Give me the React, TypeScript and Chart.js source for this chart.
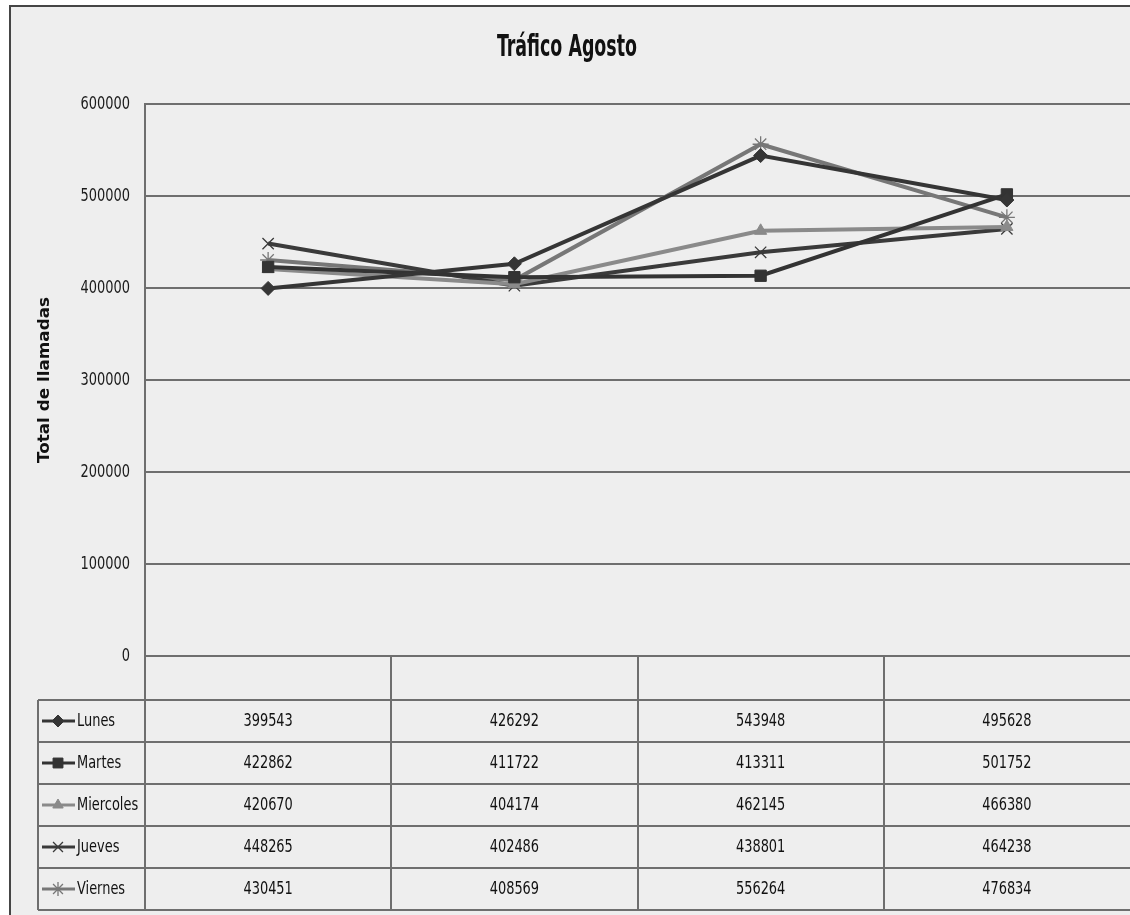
import React, { useEffect, useRef } from 'react';
import { Chart, registerables } from 'chart.js';
import { drawPoint } from 'chart.js/helpers';

Chart.register(...registerables);

const chartTitle = 'Tráfico Agosto';
const yAxisTitle = 'Total de llamadas';
const categories = ['', '', '', ''];
const seriesNames = ['Lunes', 'Martes', 'Miercoles', 'Jueves', 'Viernes'];
const lunes = [399543, 426292, 543948, 495628];
const martes = [422862, 411722, 413311, 501752];
const miercoles = [420670, 404174, 462145, 466380];
const jueves = [448265, 402486, 438801, 464238];
const viernes = [430451, 408569, 556264, 476834];
const yMin = 0;
const yMax = 600000;
const yStep = 100000;

const seriesValues = [lunes, martes, miercoles, jueves, viernes];
const seriesColors = ['#353535', '#333333', '#8a8a8a', '#3a3a3a', '#777777'];
const seriesMarkers = ['rectRot', 'rect', 'triangle', 'crossRot', 'star'];
const seriesRadius = [7, 8, 7, 8, 8];

const W = 1130;
const H = 915;
const NARROW = '"DejaVu Sans Condensed", "DejaVu Sans", sans-serif';
const GRID = '#6e6e6e';
const SQUEEZE = 0.8;

function drawText(ctx: CanvasRenderingContext2D, text: string, x: number, y: number, sx: number, align: CanvasTextAlign) {
  ctx.save();
  ctx.translate(x, y);
  ctx.scale(sx, 1);
  ctx.textAlign = align;
  ctx.fillText(text, 0, 0);
  ctx.restore();
}

function fitText(ctx: CanvasRenderingContext2D, text: string, x: number, y: number, targetW: number, align: CanvasTextAlign) {
  const w = ctx.measureText(text).width;
  drawText(ctx, text, x, y, targetW / w, align);
}

const decorPlugin = {
  id: 'decor',
  beforeDraw(chart: any) {
    const ctx: CanvasRenderingContext2D = chart.ctx;
    ctx.save();
    ctx.fillStyle = '#ffffff';
    ctx.fillRect(0, 0, W, H);
    ctx.fillStyle = '#eeeeee';
    ctx.fillRect(10, 6, W - 10, H - 6);
    ctx.strokeStyle = '#454545';
    ctx.lineWidth = 2;
    ctx.beginPath();
    ctx.moveTo(10, H);
    ctx.lineTo(10, 6);
    ctx.lineTo(W, 6);
    ctx.stroke();
    ctx.restore();
  },
  afterDraw(chart: any) {
    const ctx: CanvasRenderingContext2D = chart.ctx;
    const area = chart.chartArea;
    const xs = chart.scales.x;
    const ys = chart.scales.y;
    const n = categories.length;
    const colW = area.width / n;
    ctx.save();
    ctx.textBaseline = 'middle';
    // title
    ctx.fillStyle = '#111111';
    ctx.font = 'bold 31px ' + NARROW;
    fitText(ctx, chartTitle, 567, 48, 140, 'center');
    // y axis title
    ctx.save();
    ctx.translate(45, (area.top + area.bottom) / 2);
    ctx.rotate(-Math.PI / 2);
    ctx.font = 'bold 15px "DejaVu Sans", sans-serif';
    ctx.fillStyle = '#111111';
    fitText(ctx, yAxisTitle, 0, 0, 166, 'center');
    ctx.restore();

    // y tick labels
    ctx.font = '18px ' + NARROW;
    ctx.fillStyle = '#1a1a1a';
    ys.ticks.forEach((t: any) => {
      drawText(ctx, String(t.value), 130, ys.getPixelForValue(t.value), SQUEEZE, 'right');
    });

    // data table
    const headerBottom = area.bottom + 44;
    const rowH = 42;
    const tableLeft = 38;
    const tableBottom = headerBottom + rowH * seriesNames.length;
    ctx.strokeStyle = GRID;
    ctx.lineWidth = 2;
    ctx.beginPath();
    for (let i = 0; i < n; i++) {
      const x = Math.round(xs.getPixelForValue(i) - colW / 2);
      ctx.moveTo(x, area.bottom);
      ctx.lineTo(x, tableBottom);
    }
    ctx.moveTo(tableLeft, headerBottom);
    ctx.lineTo(tableLeft, tableBottom);
    for (let r = 0; r <= seriesNames.length; r++) {
      const y = headerBottom + r * rowH;
      ctx.moveTo(tableLeft, y);
      ctx.lineTo(W, y);
    }
    ctx.stroke();

    seriesNames.forEach((name, r) => {
      const cy = headerBottom + r * rowH + rowH / 2;
      const ds = chart.data.datasets[r];
      ctx.strokeStyle = seriesColors[r];
      ctx.fillStyle = seriesColors[r];
      ctx.lineWidth = 3;
      ctx.beginPath();
      ctx.moveTo(42, cy);
      ctx.lineTo(75, cy);
      ctx.stroke();
      ctx.lineWidth = ds.pointBorderWidth;
      drawPoint(ctx, {
        pointStyle: seriesMarkers[r],
        radius: seriesRadius[r] - 1,
        rotation: 0,
        borderWidth: ds.pointBorderWidth,
      } as any, 58, cy);
      ctx.fillStyle = '#111111';
      ctx.font = '18px ' + NARROW;
      drawText(ctx, name, 77, cy, SQUEEZE, 'left');
      seriesValues[r].forEach((v, i) => {
        drawText(ctx, String(v), xs.getPixelForValue(i), cy, SQUEEZE, 'center');
      });
    });
    ctx.restore();
  },
};

export default function App() {
  const ref = useRef<HTMLCanvasElement | null>(null);
  useEffect(() => {
    document.body.style.margin = '0';
    const canvas = ref.current!;
    const chart = new Chart(canvas, {
      type: 'line',
      data: {
        labels: categories,
        datasets: seriesNames.map((name, i) => ({
          label: name,
          data: seriesValues[i],
          borderColor: seriesColors[i],
          backgroundColor: seriesColors[i],
          pointBackgroundColor: seriesColors[i],
          pointBorderColor: seriesColors[i],
          pointStyle: seriesMarkers[i] as any,
          pointRadius: seriesRadius[i],
          pointBorderWidth: seriesMarkers[i] === 'crossRot' || seriesMarkers[i] === 'star' ? 1.3 : 1,
          borderWidth: 4,
          tension: 0,
          fill: false,
        })),
      },
      options: {
        animation: false,
        responsive: false,
        devicePixelRatio: 1,
        layout: { autoPadding: false, padding: { top: 104, left: 0, right: 0, bottom: H - 656 } },
        plugins: {
          legend: { display: false },
          title: { display: false },
          tooltip: { enabled: false },
        },
        scales: {
          x: { display: false, offset: true },
          y: {
            min: yMin,
            max: yMax,
            afterFit: (s: any) => { s.width = 145; },
            ticks: {
              stepSize: yStep,
              display: false,
            },
            grid: { color: GRID, lineWidth: 2, drawTicks: false },
            border: { display: true, color: GRID, width: 2 },
          },
        },
      },
      plugins: [decorPlugin],
    });
    return () => chart.destroy();
  }, []);
  return <canvas ref={ref} width={W} height={H} style={{ display: 'block', width: W, height: H }} />;
}
